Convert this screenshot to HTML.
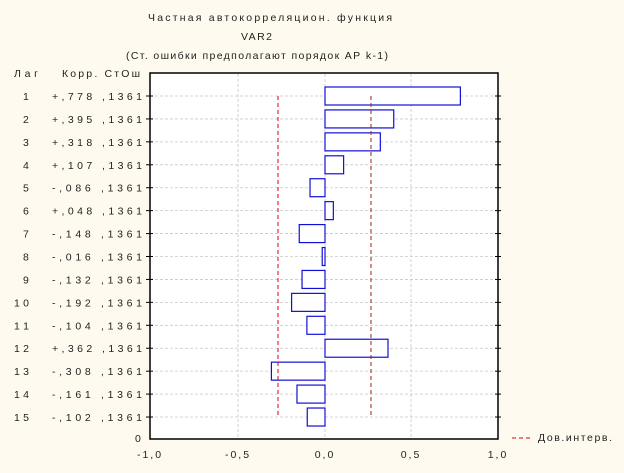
<!DOCTYPE html><html><head><style>body{margin:0;background:#fffaf0}</style></head><body>
<svg width="624" height="468" xmlns="http://www.w3.org/2000/svg" font-family="Liberation Sans Narrow, Liberation Sans, sans-serif" font-size="10.5" fill="#222">
<rect width="624" height="468" fill="#fffaf0"/>
<text x="148" y="21" textLength="244" lengthAdjust="spacing">Частная автокорреляцион. функция</text>
<text x="241" y="40" textLength="31" lengthAdjust="spacing">VAR2</text>
<text x="126" y="59" textLength="262" lengthAdjust="spacing">(Ст. ошибки предполагают порядок АР k-1)</text>
<text x="14" y="77" textLength="24" lengthAdjust="spacing">Лаг</text>
<text x="62" y="77" textLength="78" lengthAdjust="spacing">Корр. СтОш</text>
<rect x="150" y="73" width="348" height="366" fill="#fff" stroke="#000" stroke-width="1.5"/>
<g stroke="#c8c8c8" stroke-dasharray="3,2" stroke-width="0.8">
<line x1="238" y1="74" x2="238" y2="438"/><line x1="325" y1="74" x2="325" y2="438"/><line x1="411" y1="74" x2="411" y2="438"/>
</g>
<g id="rows"></g>
<line x1="278" y1="96" x2="278" y2="417" stroke="#e00000" stroke-dasharray="4,3"/>
<line x1="371" y1="96" x2="371" y2="417" stroke="#a02020" stroke-dasharray="4,3"/>
<g letter-spacing="2">
<text x="135" y="442">0</text>
<text x="150" y="458" text-anchor="middle">-1,0</text>
<text x="238" y="458" text-anchor="middle">-0,5</text>
<text x="325" y="458" text-anchor="middle">0,0</text>
<text x="411" y="458" text-anchor="middle">0,5</text>
<text x="498" y="458" text-anchor="middle">1,0</text>
</g>
<text x="538" y="441" textLength="74" lengthAdjust="spacing">Дов.интерв.</text>
<line x1="512" y1="438" x2="532" y2="438" stroke="#e00000" stroke-dasharray="4,3"/>
</svg>
<script>
var v=[.778,.395,.318,.107,-.086,.048,-.148,-.016,-.132,-.192,-.104,.362,-.308,-.161,-.102];
var g=document.getElementById('rows'),s='';
v.forEach(function(c,i){var y=96+i*22.93;var x0=325,x1=325+174*c;
s+='<line x1="150" y1="'+y+'" x2="498" y2="'+y+'" stroke="#c8c8c8" stroke-dasharray="3,2" stroke-width="0.8"/>';
s+='<line x1="146" y1="'+y+'" x2="153" y2="'+y+'" stroke="#000"/><line x1="495" y1="'+y+'" x2="501" y2="'+y+'" stroke="#000"/>';
s+='<rect x="'+Math.min(x0,x1)+'" y="'+(y-9)+'" width="'+Math.max(Math.abs(x1-x0),2)+'" height="18" fill="#fff" stroke="#1010d8" stroke-width="1.2"/>';
var n=(i+1).toString();
s+='<text x="'+(n.length>1?14:23)+'" y="'+(y+4)+'"'+(n.length>1?' textLength="15" lengthAdjust="spacing"':'')+'>'+n+'</text>';
var t=(c>=0?'+':'-')+','+Math.round(Math.abs(c)*1000).toString().padStart(3,'0')+' ,1361';
s+='<text x="52" y="'+(y+4)+'" textLength="90" lengthAdjust="spacing">'+t+'</text>';});
g.innerHTML=s;
</script>
</body></html>
